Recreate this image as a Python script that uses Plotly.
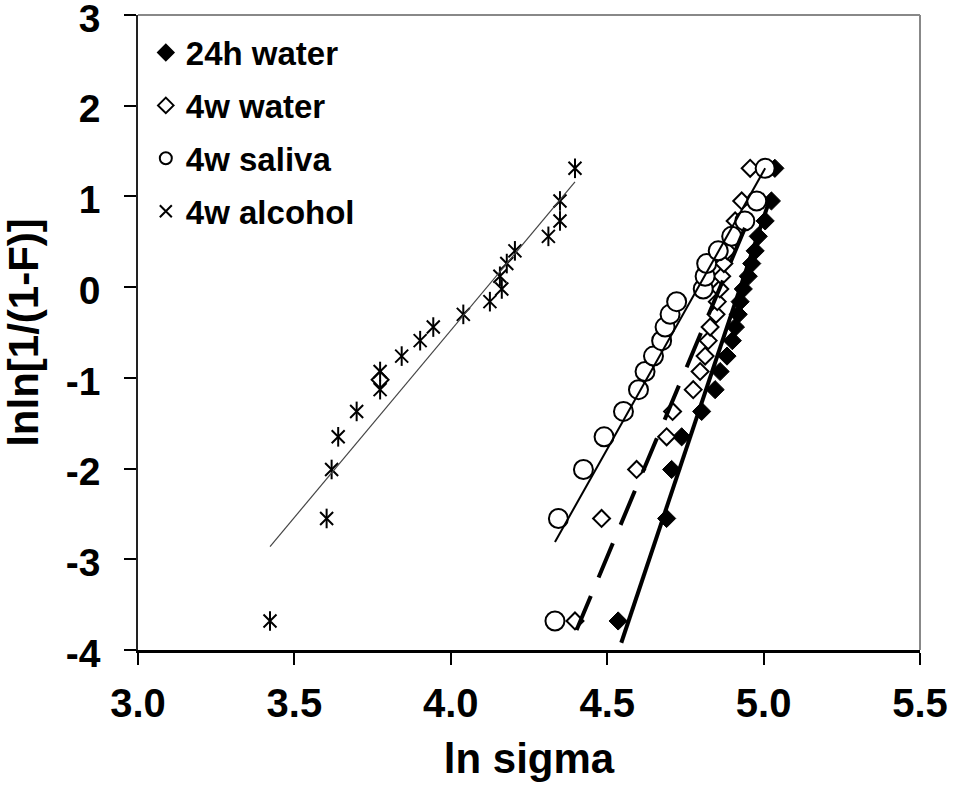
import plotly.graph_objects as go

# Shared Weibull ordinate (rank positions)
lnln_F = [-3.68, -2.55, -2.01, -1.65, -1.37, -1.13, -0.93, -0.76, -0.59, -0.44,
          -0.30, -0.16, -0.02, 0.12, 0.26, 0.40, 0.56, 0.73, 0.95, 1.31]

# ln sigma values per series
water24h_x = [4.535, 4.690, 4.706, 4.738, 4.802, 4.845, 4.861, 4.883, 4.900, 4.910,
              4.919, 4.925, 4.935, 4.951, 4.962, 4.973, 4.983, 5.005, 5.025, 5.036]
water4w_x = [4.397, 4.482, 4.594, 4.690, 4.709, 4.775, 4.797, 4.813, 4.823, 4.829,
             4.848, 4.852, 4.860, 4.866, 4.873, 4.884, 4.897, 4.909, 4.930, 4.957]
saliva4w_x = [4.333, 4.344, 4.424, 4.490, 4.552, 4.600, 4.621, 4.648, 4.674, 4.685,
              4.701, 4.722, 4.807, 4.813, 4.818, 4.855, 4.898, 4.940, 4.978, 5.005]
alcohol4w_x = [3.422, 3.603, 3.619, 3.640, 3.699, 3.774, 3.774, 3.843, 3.902, 3.944,
               4.040, 4.125, 4.163, 4.157, 4.179, 4.205, 4.312, 4.349, 4.349, 4.397]
# stray 4w water marker seen among the alcohol points
water4w_extra_x = [3.774]
water4w_extra_y = [-1.02]

# Trend lines (end points)
fit24h_x = [4.545, 5.02]
fit24h_y = [-3.92, 0.97]
fit4ww_x = [4.402, 4.957]
fit4ww_y = [-3.78, 0.79]
fitsal_x = [4.333, 5.005]
fitsal_y = [-2.81, 1.31]
fitalc_x = [3.422, 4.397]
fitalc_y = [-2.86, 1.16]

x_ticks = [3.0, 3.5, 4.0, 4.5, 5.0, 5.5]
y_ticks = [-4, -3, -2, -1, 0, 1, 2, 3]

FONT = "Liberation Sans, Arial, sans-serif"

fig = go.Figure()

fig.add_trace(go.Scatter(
    x=water24h_x, y=lnln_F, mode="markers", name="<b>24h water</b>",
    legendgroup="a",
    marker=dict(symbol="diamond", size=14, color="black", line=dict(color="black", width=1))))
fig.add_trace(go.Scatter(
    x=water4w_x, y=lnln_F, mode="markers", name="<b>4w water</b>",
    legendgroup="b",
    marker=dict(symbol="diamond", size=13, color="white", line=dict(color="black", width=2))))
fig.add_trace(go.Scatter(
    x=water4w_extra_x, y=water4w_extra_y, mode="markers", showlegend=False,
    legendgroup="b",
    marker=dict(symbol="diamond", size=13, color="white", line=dict(color="black", width=2))))
fig.add_trace(go.Scatter(
    x=saliva4w_x, y=lnln_F, mode="markers", name="<b>4w saliva</b>",
    legendgroup="c",
    marker=dict(symbol="circle", size=19, color="white", line=dict(color="black", width=2))))
fig.add_trace(go.Scatter(
    x=alcohol4w_x, y=lnln_F, mode="markers", name="<b>4w alcohol</b>",
    legendgroup="d",
    marker=dict(symbol="x-thin-open", size=13, color="black", line=dict(color="black", width=2))))
fig.add_trace(go.Scatter(
    x=alcohol4w_x, y=lnln_F, mode="markers", showlegend=False,
    legendgroup="d",
    marker=dict(symbol="line-ns-open", size=14, color="black", line=dict(color="black", width=2))))

# trend lines
fig.add_trace(go.Scatter(x=fitalc_x, y=fitalc_y, mode="lines", showlegend=False,
                         line=dict(color="#444444", width=1.2)))
fig.add_trace(go.Scatter(x=fitsal_x, y=fitsal_y, mode="lines", showlegend=False,
                         line=dict(color="black", width=2)))
fig.add_trace(go.Scatter(x=fit4ww_x, y=fit4ww_y, mode="lines", showlegend=False,
                         line=dict(color="black", width=4, dash="37px,20px")))
fig.add_trace(go.Scatter(x=fit24h_x, y=fit24h_y, mode="lines", showlegend=False,
                         line=dict(color="black", width=4)))

fig.update_layout(
    width=955, height=787,
    margin=dict(l=138, r=35, t=15, b=137, autoexpand=False),
    paper_bgcolor="white", plot_bgcolor="white",
    font=dict(family=FONT, color="black"),
    showlegend=True,
    legend=dict(x=0.01, y=0.985, xanchor="left", yanchor="top",
                font=dict(family=FONT, size=33, color="black"),
                bgcolor="rgba(0,0,0,0)", traceorder="grouped", tracegroupgap=7,
                itemsizing="constant"),
)

fig.update_xaxes(
    range=[3.0, 5.5], tickvals=x_ticks, ticktext=[f"<b>{v:.1f}</b>" for v in x_ticks],
    ticks="outside", ticklen=12, tickwidth=1.5, tickcolor="black",
    showline=True, linecolor="black", linewidth=2.5, showgrid=False, zeroline=False,
    tickfont=dict(family=FONT, size=40, color="black"), ticklabelstandoff=4,
    ticklabeloverflow="allow",
    title=dict(text="<b>ln sigma</b>", font=dict(family=FONT, size=42, color="black"),
               standoff=20),
    automargin=False,
)
fig.update_yaxes(
    range=[-4, 3], tickvals=y_ticks, ticktext=[f"<b>{v}</b>" for v in y_ticks],
    ticks="outside", ticklen=12, tickwidth=1.5, tickcolor="black",
    showline=True, linecolor="#222222", linewidth=1.5, showgrid=False, zeroline=False,
    tickfont=dict(family=FONT, size=39, color="black"), ticklabelstandoff=16,
    ticklabelshift=3, ticklabeloverflow="allow",
    title=dict(text="<b>lnln[1/(1-F)]</b>", font=dict(family=FONT, size=42, color="black"),
               standoff=23),
    automargin=False,
)

# gray top and right frame lines
fig.add_shape(type="line", xref="paper", yref="paper", x0=0, x1=1, y0=1, y1=1,
              line=dict(color="#888888", width=2))
fig.add_shape(type="line", xref="paper", yref="paper", x0=1, x1=1, y0=0, y1=1,
              line=dict(color="#888888", width=2))

# remove the default 8px page margin so the figure fills the window exactly
fig.write_html("out.html", config={"displayModeBar": False},
               post_script="document.body.style.margin='0';")
